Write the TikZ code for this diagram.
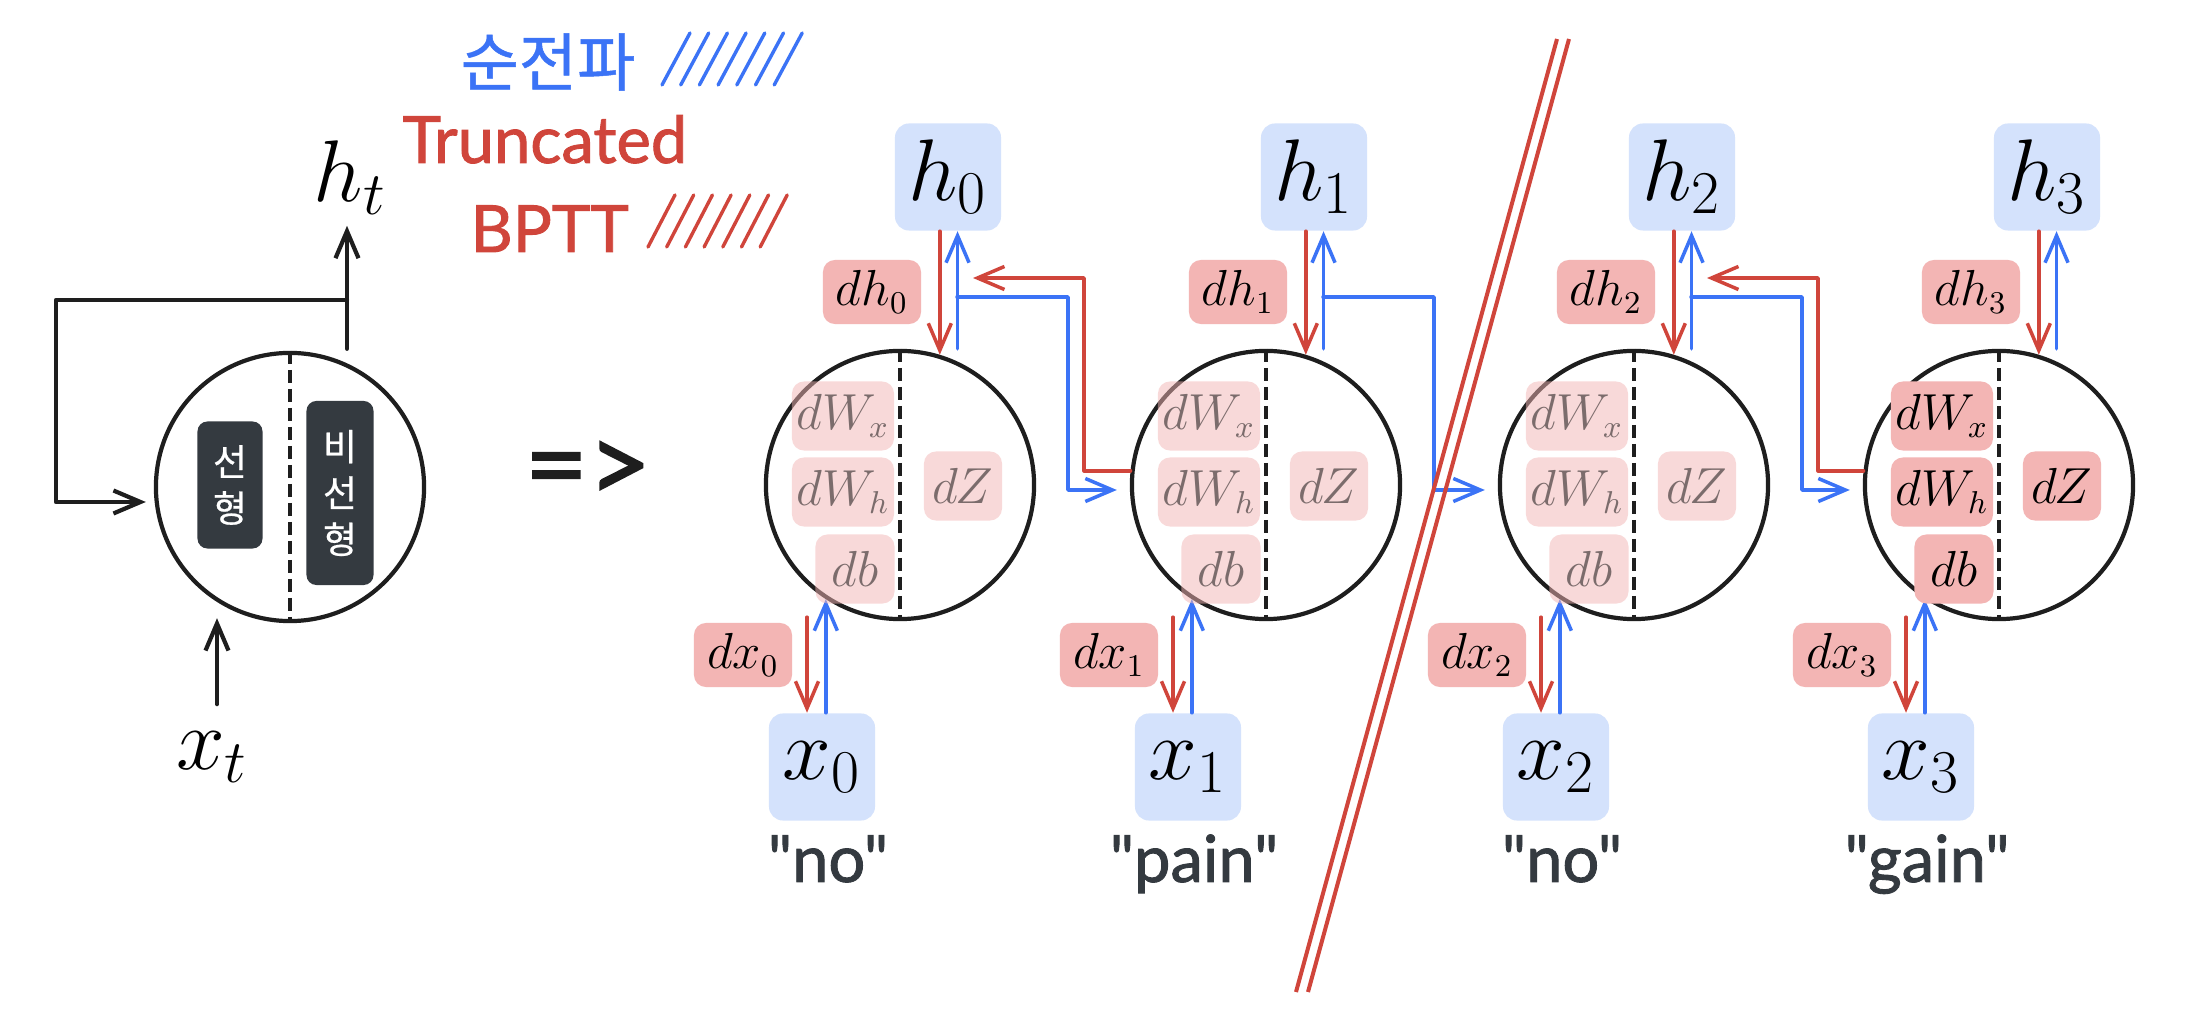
\documentclass[tikz,border=0pt]{standalone}
\usepackage{fontspec}
\setmainfont{Lato}[Ligatures=TeXOff]
\newfontfamily\qfont{Lato}[Ligatures=TeXOff, FakeBold=1.4]
\newfontfamily\imfont{Lato}[Ligatures=TeXOff, FakeBold=1.6]
\newfontfamily\krfont{Noto Sans CJK KR}[FakeBold=0.6]
\newfontfamily\krlfont{Noto Sans CJK KR}[FakeBold=0.8]
\usetikzlibrary{arrows.meta,calc}
\definecolor{cred}{HTML}{D0453B}
\definecolor{cblue}{HTML}{3B73F6}
\definecolor{cpink}{HTML}{F3B5B4}
\definecolor{cbluebox}{HTML}{D4E2FC}
\definecolor{cdark}{HTML}{343A40}
\definecolor{cline}{HTML}{1E1E1E}
\newcommand{\qw}[1]{\char34 #1\char34}
\begin{document}
\begin{tikzpicture}[x=0.01cm,y=-0.01cm,
  cellc/.style={circle, draw=cline, line width=0.042cm, minimum size=2.68cm, inner sep=0},
  dashv/.style={draw=cline, line width=0.042cm, dash pattern=on 0.13cm off 0.06cm},
  hbox/.style={fill=cbluebox, rounded corners=0.14cm, minimum width=1.06cm, minimum height=1.07cm, inner sep=0, font=\fontsize{23.5}{28}\selectfont},
  gbox/.style={fill=cpink, rounded corners=0.12cm, minimum width=0.98cm, minimum height=0.64cm, inner sep=0, font=\fontsize{13.5}{16}\selectfont},
  ibox/.style={fill=cpink, rounded corners=0.12cm, minimum height=0.69cm, inner sep=0, font=\fontsize{13.5}{16}\selectfont},
  wbox/.style={ibox, minimum width=1.02cm},
  bbox/.style={ibox, minimum width=0.79cm},
  zbox/.style={ibox, minimum width=0.78cm},
  faded/.style={opacity=0.5, text opacity=0.5},
  kbox/.style={fill=cdark, rounded corners=0.1cm, text=white, inner sep=0, align=center, font=\krfont\fontsize{10.5}{13.2}\selectfont},
  bigmath/.style={inner sep=0, font=\fontsize{23.5}{28}\selectfont},
  qtext/.style={inner sep=0, text=cdark, font=\qfont\fontsize{18.5}{20}\selectfont},
  tip/.style={-{Straight Barb[length=0.27cm,width=0.23cm]}},
  redarr/.style={draw=cred, line width=0.035cm, line cap=round, line join=round, tip},
  bluearr/.style={draw=cblue, line width=0.035cm, line cap=round, line join=round, tip},
  blkarr/.style={draw=cline, line width=0.042cm, line cap=round, line join=round, tip},
  hatch/.style={line width=0.034cm, line cap=round},
]
\useasboundingbox[fill=white] (0,0) rectangle (2208,1022);

% ---------- legend ----------
\node[inner sep=0, text=cblue, font=\krlfont\fontsize{18}{20}\selectfont] (fwd) at (548,62) {순전파};
\foreach \i in {0,...,6} \draw[cblue, hatch] ({662+18.7*\i},85) -- ++(28,-52);
\node[qtext, text=cred, anchor=base west] (trunc) at (402,163) {Truncated};
\node[qtext, text=cred, anchor=base west] (bptt) at (470,252) {BPTT};
\foreach \i in {0,...,6} \draw[cred, hatch] ({648+18.7*\i},247) -- ++(27,-52);

% ---------- folded cell ----------
\node[cellc] (lc) at (290,487) {};
\draw[dashv] (lc.north) -- (lc.south);
\node[kbox, minimum width=0.65cm, minimum height=1.27cm] (lin) at (230,485) {선\\형};
\node[kbox, minimum width=0.67cm, minimum height=1.84cm] (nlin) at (340,493) {비\\선\\형};
\node[bigmath] (ht) at (350,178) {$h_t$};
\node[bigmath] (xt) at (212,757) {$x_t$};
\coordinate (hta) at ($(lc.north)+(57,-2)$);
\coordinate (htb) at ($(lc.north)+(57,-125)$);
\draw[blkarr] (hta) -- (htb);
\coordinate (lj) at ($(lc.north)+(57,-51)$);
\coordinate (lk) at (56,502);
\coordinate (lt) at ($(lc.west)+(-8,15)$);
\draw[blkarr] (lj) -| (lk) -- (lt);
\coordinate (xta) at ($(lc.south)+(-73,81)$);
\coordinate (xtb) at ($(lc.south)+(-73,-5)$);
\draw[blkarr] (xta) -- (xtb);

\node[inner sep=0, text=cline, font=\imfont\fontsize{31}{31}\selectfont] (imp) at (588,472) {=>};

% ---------- unrolled cells ----------
\foreach \k/\c/\q in {0/900/no, 1/1266/pain, 2/1634/no, 3/1999/gain}{
  \node[cellc] (c\k) at (\c,485) {};
  \draw[dashv] (c\k.north) -- (c\k.south);
  \node[hbox] (h\k) at ({\c+48},177) {$h_\k$};
  \node[gbox] (dh\k) at ({\c-28},292) {$dh_\k$};
  \node[gbox] (dx\k) at ({\c-157},655) {$dx_\k$};
  \node[hbox] (x\k) at ({\c-78},767) {$x_\k$};
  \node[qtext, anchor=base] (q\k) at ({\c-72},882) {\qw{\q}};
  \draw[redarr] (c\k.73.5 |- h\k.south) -- (c\k.73.5);
  \draw[bluearr] (c\k.65 |- c\k.north) -- (c\k.65 |- h\k.south);
  \coordinate (r\k) at ($(c\k.south)+(-93,-4)$);
  \draw[redarr] (r\k) -- (r\k |- x\k.north);
  \draw[bluearr] (c\k.237.5 |- x\k.north) -- (c\k.237.5);
}
% inner gradient boxes (faded in cells 0-2)
\foreach \k/\c in {0/900, 1/1266, 2/1634}{
  \node[wbox, faded] (wx\k) at ({\c-57},416) {$dW_x$};
  \node[wbox, faded] (wh\k) at ({\c-57},492) {$dW_h$};
  \node[bbox, faded] (db\k) at ({\c-45},569) {$db$};
  \node[zbox, faded] (dz\k) at ({\c+63},486) {$dZ$};
}
\node[wbox] (wx3) at (1942,416) {$dW_x$};
\node[wbox] (wh3) at (1942,492) {$dW_h$};
\node[bbox] (db3) at (1954,569) {$db$};
\node[zbox] (dz3) at (2062,486) {$dZ$};

% ---------- forward links ----------
\foreach \a/\b in {0/1, 1/2, 2/3}{
  \coordinate (bs\a) at ($(c\a)+(57,-188)$);
  \coordinate (bk\a) at ($(c\a)+(168,5)$);
  \coordinate (bt\a) at ($(c\b.west)+(-13,5)$);
  \draw[bluearr] (bs\a) -| (bk\a) -- (bt\a);
}
% ---------- truncated BPTT links ----------
\foreach \a/\b in {0/1, 2/3}{
  \coordinate (rk\a) at ($(c\a)+(184,-207)$);
  \coordinate (rt\a) at ($(c\a)+(73,-207)$);
  \draw[redarr] (c\b.174) -| (rk\a) -- (rt\a);
}

% ---------- truncation mark ----------
\draw[cred, line width=0.04cm] (1557,39) -- (1296,992);
\draw[cred, line width=0.04cm] (1569,39) -- (1308,992);
\end{tikzpicture}
\end{document}
